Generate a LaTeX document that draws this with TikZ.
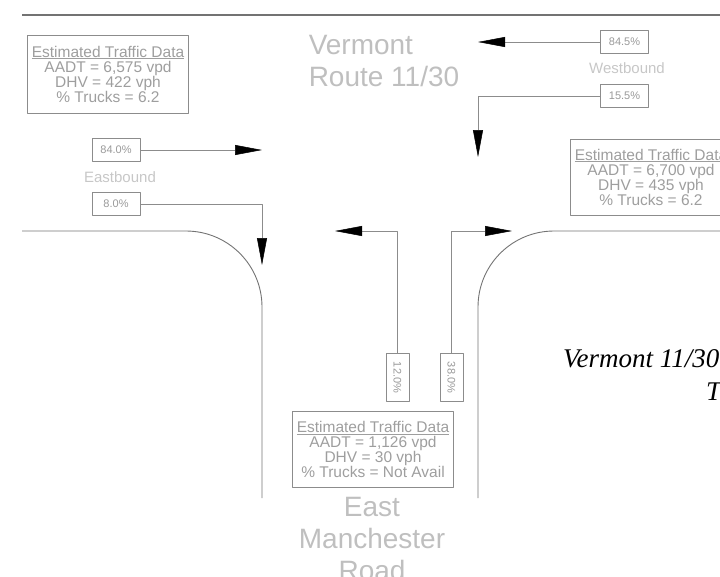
\documentclass[tikz,border=0pt]{standalone}
\usepackage{fontspec}
\setmainfont{Liberation Serif}
\setsansfont{Liberation Sans}
\usepackage{tikz}
\usetikzlibrary{arrows.meta,calc,positioning}
\tikzset{
  road/.style={draw=black!55,line width=0.9pt},
  lead/.style={draw=black!45,line width=0.5pt},
  pct/.style={draw=black!45,line width=0.6pt,inner sep=0pt,minimum width=48pt,minimum height=23pt,text=black!40,font=\sffamily\fontsize{11}{11}\selectfont},
  databox/.style={draw=black!45,line width=0.6pt,inner sep=0pt,align=center,text=black!38,font=\sffamily\fontsize{15.5}{15}\selectfont},
  dirtext/.style={text=black!22,font=\sffamily\fontsize{15}{15}\selectfont},
  roadname/.style={text=black!25,font=\sffamily\fontsize{28}{32}\selectfont},
  captext/.style={anchor=base west,inner sep=0pt,font=\itshape\fontsize{27}{27}\selectfont},
  tip/.style={-{Triangle[length=27pt,width=10pt,color=black]}}
}
\begin{document}
\begin{tikzpicture}[x=1pt,y=-1pt,line join=round]
\useasboundingbox (0,0) rectangle (720,576);
% --- road edges
\draw[road,line width=1.3pt] (22,15) -- (720,15);
\draw[road] (22,231) -- (186,231) arc[start angle=-90,end angle=0,radius=76] -- (262,498);
\draw[road] (720,231) -- (554,231) arc[start angle=-90,end angle=-180,radius=76] -- (478,498);
% --- names
\node[roadname,align=left] (vermont) at (384,61) {Vermont\\Route 11/30};
\node[roadname,align=center] (manchester) at (372,539) {East\\Manchester\\Road};
% --- data boxes
\node[databox,minimum width=161pt,minimum height=78pt] (westdata) at (108,74) {\underline{Estimated Traffic Data}\\AADT = 6,575 vpd\\DHV = 422 vph\\\% Trucks = 6.2};
\node[databox,minimum width=161pt,minimum height=76pt] (eastdata) at (651,177) {\underline{Estimated Traffic Data}\\AADT = 6,700 vpd\\DHV = 435 vph\\\% Trucks = 6.2};
\node[databox,minimum width=161pt,minimum height=76pt] (southdata) at (373,449.5) {\underline{Estimated Traffic Data}\\AADT = 1,126 vpd\\DHV = 30 vph\\\% Trucks = Not Avail};
% --- percent boxes
\node[pct] (ebthru) at (116,150) {84.0\%};
\node[pct] (ebright) at (116,204) {8.0\%};
\node[dirtext] (eblabel) at (120,177) {Eastbound};
\node[pct] (wbleft) at (624.5,42) {84.5\%};
\node[pct] (wbthru) at (624.5,96) {15.5\%};
\node[dirtext] (wblabel) at (627,68) {Westbound};
\node[pct,rotate=-90] (nbleft) at (397.5,377.5) {12.0\%};
\node[pct,rotate=-90] (nbright) at (451.5,377.5) {38.0\%};
% --- arrows
\coordinate (ebthruend) at (262,150);
\coordinate (ebrightend) at (262,265);
\coordinate (wbleftend) at (478,42);
\coordinate (wbthruend) at (478,157);
\coordinate (nbleftend) at (335,231);
\coordinate (nbrightend) at (512,231);
\draw[lead,tip] (ebthru) -- (ebthruend);
\draw[lead,tip] (ebright) -| (ebrightend);
\draw[lead,tip] (wbleft) -- (wbleftend);
\draw[lead,tip] (wbthru) -| (wbthruend);
\draw[lead,tip] (nbleft) |- (nbleftend);
\draw[lead,tip] (nbright) |- (nbrightend);
% --- caption
\node[captext] (capt) at (563,367) {Vermont 11/30};
\node[captext] (captb) at (706,400) {T};
\end{tikzpicture}
\end{document}
